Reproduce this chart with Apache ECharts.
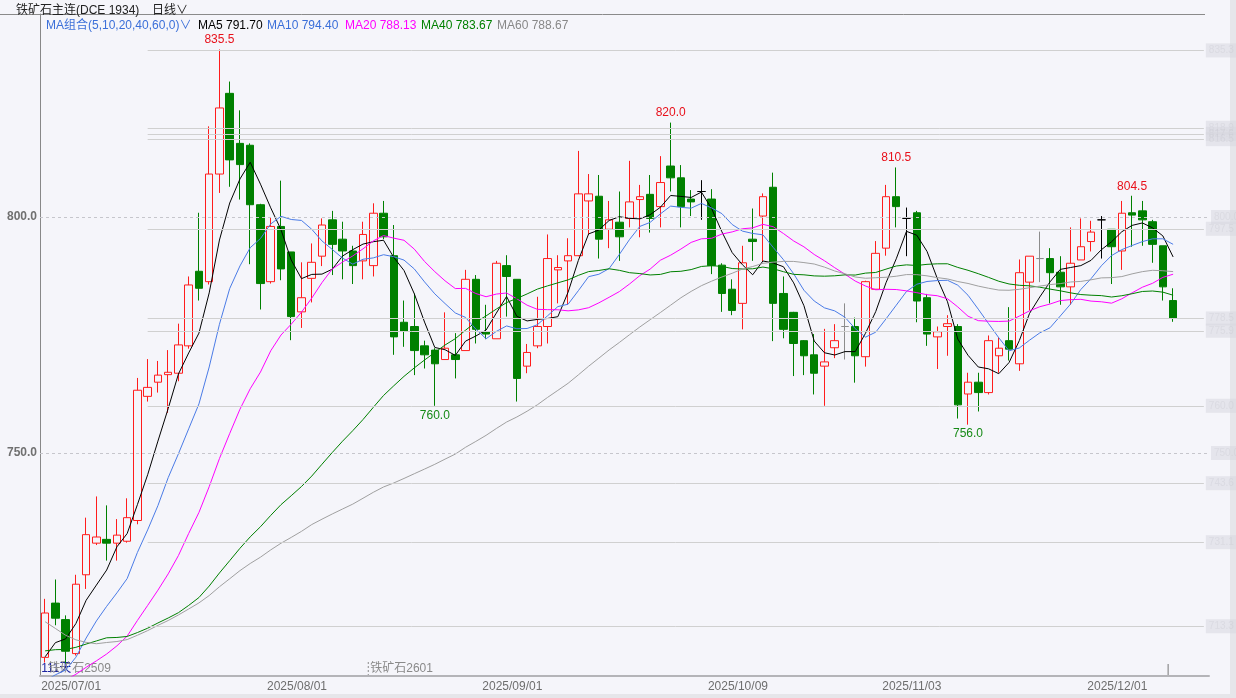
<!DOCTYPE html>
<html><head><meta charset="utf-8">
<script src="https://cdn.jsdelivr.net/npm/echarts@6/dist/echarts.min.js"></script>
<style>html,body{margin:0;padding:0;background:#f5f5fa;}#c{width:1236px;height:698px;}</style>
</head><body><div id="c"></div><script>
// ---- categories (trading days) ----
const tradingDays = [
  ['2025/07', [1,2,3,4,7,8,9,10,11,14,15,16,17,18,21,22,23,24,25,28,29,30,31]],
  ['2025/08', [1,4,5,6,7,8,11,12,13,14,15,18,19,20,21,22,25,26,27,28,29]],
  ['2025/09', [1,2,3,4,5,8,9,10,11,12,15,16,17,18,19,22,23,24,25,26,29,30]],
  ['2025/10', [9,10,13,14,15,16,17,20,21,22,23,24,27,28,29,30,31]],
  ['2025/11', [3,4,5,6,7,10,11,12,13,14,17,18,19,20,21,24,25,26,27,28]],
  ['2025/12', [1,2,3,4,5,8,9,10]]
];
const padCategories = ['p1','p2','p3'];
const labelDates = ['2025/07/01','2025/08/01','2025/09/01','2025/10/09','2025/11/03','2025/12/01'];
const yLabelValues = [750, 800];

// ---- OHLC ----
const opens = [706.7,718.2,714.7,707.5,724.2,730.9,731.7,730.9,731.3,735.7,
 762.0,765.0,766.6,766.9,772.7,788.5,786.3,809.1,826.2,815.6,
 815.2,802.6,786.3,798.0,792.6,779.9,787.0,791.7,799.4,795.3,
 792.8,790.7,789.7,800.8,791.8,777.7,776.8,772.7,771.8,769.8,
 770.8,771.7,786.8,775.7,774.2,789.7,786.8,768.4,772.7,776.8,
 788.8,790.7,791.8,803.4,804.4,797.4,798.9,799.7,803.7,804.8,
 802.2,810.8,808.3,803.8,805.4,803.8,789.8,784.7,781.7,795.3,
 800.2,806.3,783.8,779.8,773.8,770.8,768.4,772.3,776.8,776.8,
 770.4,784.7,793.4,804.3,799.7,800.9,782.9,774.6,776.8,776.8,
 762.5,765.0,762.8,770.6,773.8,768.9,786.2,791.2,791.2,788.3,
 785.2,790.9,794.8,799.4,797.4,792.8,800.9,801.3,799.0,793.9,782.3];
const closes = [716.1,715.0,708.0,722.2,732.7,732.2,730.9,732.6,736.3,763.3,
 763.9,766.5,767.1,772.9,785.6,784.9,809.1,823.1,812.1,811.1,
 802.6,785.9,798.0,789.0,778.9,782.9,790.4,798.3,794.2,792.8,
 789.7,796.3,800.8,795.8,774.6,775.8,771.7,770.8,768.9,772.2,
 769.8,786.8,776.2,775.2,790.2,787.4,765.8,771.3,776.8,791.2,
 789.3,791.8,804.9,804.9,795.3,799.4,795.8,803.2,804.3,799.7,
 807.3,808.3,802.2,803.2,805.4,789.7,783.8,780.2,790.3,794.8,
 804.3,781.7,776.2,773.2,770.6,766.9,769.3,773.8,776.8,770.6,
 786.3,792.3,804.3,802.2,799.7,782.2,775.2,775.7,777.4,760.2,
 765.0,762.8,773.8,772.2,772.0,788.2,791.7,791.2,788.2,785.2,
 790.2,793.7,796.8,799.4,793.7,800.8,800.4,799.4,794.2,785.2,778.5];
const lows = [705.6,713.5,705.4,707.1,721.2,730.5,727.2,727.2,731.0,734.9,
 760.9,762.8,758.5,765.2,772.1,782.3,785.7,805.1,806.4,803.7,
 790.0,780.4,785.9,786.6,773.9,776.5,781.9,789.6,787.7,786.8,
 785.8,786.8,787.4,795.3,770.8,772.5,766.5,767.9,760.0,769.8,
 765.8,771.7,773.2,774.1,774.2,778.9,760.9,766.9,772.2,773.2,
 781.7,781.4,791.7,796.3,791.2,793.4,790.7,797.8,795.7,796.7,
 797.8,805.4,797.8,800.2,799.4,787.9,779.9,779.2,776.2,790.7,
 790.5,773.7,774.3,766.3,766.5,762.4,760.0,770.1,769.8,764.9,
 768.3,784.7,791.8,797.8,791.7,777.7,772.7,767.8,770.6,757.3,
 756.0,758.8,762.4,767.0,769.6,767.4,780.2,786.2,781.7,781.4,
 781.4,790.9,792.7,791.2,785.8,788.8,793.7,793.9,790.3,782.3,777.8];
const highs = [719.1,723.2,715.6,724.2,736.3,740.8,738.9,736.0,740.4,765.9,
 769.9,769.5,771.8,777.4,787.4,800.9,819.2,835.5,828.7,822.6,
 815.6,802.8,800.0,807.7,792.6,790.4,794.4,799.7,801.3,799.0,
 793.9,799.0,802.9,803.4,798.3,782.3,783.8,773.8,772.2,779.8,
 775.4,788.8,787.7,781.4,790.7,791.9,786.8,773.1,783.1,796.3,
 791.9,795.5,814.0,809.1,808.9,803.4,805.4,811.9,806.8,808.9,
 812.9,820.0,811.0,805.7,807.8,805.9,790.2,786.8,793.9,801.8,
 805.0,809.4,787.4,779.9,773.9,775.2,776.3,777.3,781.7,778.7,
 786.5,794.9,806.8,810.5,802.0,801.3,783.7,776.8,779.2,777.3,
 767.0,767.0,774.9,774.5,780.9,791.0,791.7,796.9,793.4,791.7,
 797.8,799.7,799.2,800.2,797.4,803.4,804.5,803.4,799.4,793.9,784.9];
// closes before 2025/07/01 (estimated) used for the moving averages' start
const priorCloses = [800,795,780,765,750,715,720,712,708,705,
 700,705,702,710,708,715,712,710,708,712,
 705,706,704,705,706,704,730,728,730,727,
 722,725,728,724,718,712,712,708,706,706,
 700,702,698,703,705,702,698,695,697,700,
 702,698,695,692,696,700,704,706,708];
const dojiBlack = [64, 84, 103];
const dojiGray = [78, 97];
const highMarks = [17, 61, 83, 106];
const lowMarks = [38, 90];
const supportLevels = [835.3, 818.9, 817.6, 816.5, 797.5, 778.5, 775.9, 760.0, 743.6, 731.1, 713.3];
const supportStart = 10;
const maPeriods = [5, 10, 20, 40, 60];
const maColors = ['#000000', '#4a7be6', '#ff00ff', '#008000', '#a0a0a0'];
const maLegend = ['MA5 791.70', 'MA10 794.40', 'MA20 788.13', 'MA40 783.67', 'MA60 788.67'];
const maLegendX = [198, 267, 345, 421, 497];
const maLegendColors = ['#000000', '#3b6fd9', '#ff00ff', '#008000', '#888888'];

// ---- build ----
const cats = [];
tradingDays.forEach(([m, ds]) => ds.forEach(d => cats.push(m + '/' + String(d).padStart(2, '0'))));
const allCats = cats.concat(padCategories);
const full = priorCloses.concat(closes);
function ma(n) {
  return closes.map((_, i) => {
    const end = i + priorCloses.length;
    let s = 0;
    for (let k = end - n + 1; k <= end; k++) s += full[k];
    return +(s / n).toFixed(2);
  });
}
const candleData = closes.map((c, i) => {
  const item = { value: [opens[i], c, lows[i], highs[i]] };
  const dc = dojiBlack.includes(i) ? '#000000' : (dojiGray.includes(i) ? '#8c8c8c' : null);
  if (dc) item.itemStyle = { color: dc, color0: dc, borderColor: dc, borderColor0: dc, borderColorDoji: dc };
  return item;
});
const FONT = '"Liberation Sans", "Noto Sans CJK SC", sans-serif';
const tagLabel = {
  show: true, position: 'end', distance: 2, fontSize: 10, fontFamily: FONT,
  color: 'rgba(180,180,190,0.22)', backgroundColor: 'rgba(214,214,222,0.5)', padding: [2, 3],
  formatter: p => (+p.value).toFixed(1)
};
const markLineData = [];
yLabelValues.forEach(v => markLineData.push({ yAxis: v, value: v, lineStyle: { type: [3, 3], color: '#c6c6cc', width: 1 } }));
supportLevels.forEach(v => markLineData.push([{ coord: [supportStart, v], value: v }, { coord: [allCats.length - 1, v], value: v }]));
const markPointData = [];
highMarks.forEach(i => markPointData.push({ coord: [i, highs[i]], value: highs[i],
  label: { position: 'top', color: '#e8101a', distance: 3 } }));
lowMarks.forEach(i => markPointData.push({ coord: [i, lows[i]], value: lows[i],
  label: { position: 'bottom', color: '#168a16', distance: 3 } }));

const series = [{
  type: 'candlestick', data: candleData, barWidth: 8,
  itemStyle: { color: 'rgba(0,0,0,0)', color0: '#008000', borderColor: '#ff1c1c', borderColor0: '#008000', borderWidth: 1 },
  markLine: { silent: true, symbol: ['none', 'none'], animation: false, data: markLineData,
    lineStyle: { color: '#d0d0d0', width: 1, type: 'solid' }, label: tagLabel, emphasis: { disabled: true } },
  markPoint: { silent: true, symbol: 'circle', symbolSize: 1, itemStyle: { color: 'rgba(0,0,0,0)' }, data: markPointData,
    label: { show: true, fontSize: 12, fontFamily: FONT, formatter: p => (+p.value).toFixed(1) } }
}];
maPeriods.forEach((n, k) => series.push({
  type: 'line', name: 'MA' + n, data: ma(n), showSymbol: false, symbol: 'none', smooth: false,
  lineStyle: { color: maColors[k], width: 1 }, silent: true, clip: true, z: 3
}));

const chart = echarts.init(document.getElementById('c'));
chart.setOption({
  backgroundColor: '#f5f5fa',
  animation: false,
  grid: { left: 40, top: 14, right: 27, bottom: 22, outerBoundsMode: 'none' },
  xAxis: {
    type: 'category', data: allCats, boundaryGap: true,
    axisLine: { show: true, lineStyle: { color: '#b4b4b8', width: 2 } },
    axisTick: { show: false }, splitLine: { show: false },
    axisLabel: {
      interval: (idx, val) => labelDates.includes(val),
      formatter: (val, idx) => (idx === 0 ? '{f|' + val + '}' : '{n|' + val + '}'),
      align: 'left', margin: 5,
      rich: {
        f: { fontSize: 12, color: '#6e6e6e', fontFamily: FONT, padding: [0, 0, 0, -4] },
        n: { fontSize: 12, color: '#6e6e6e', fontFamily: FONT, padding: [0, 0, 0, -14] }
      }
    }
  },
  yAxis: {
    type: 'value', min: 702.754, max: 843.008, scale: true,
    axisLine: { show: true, lineStyle: { color: '#888888' } },
    axisTick: { show: false }, splitLine: { show: false },
    axisLabel: { customValues: yLabelValues, formatter: v => v.toFixed(1), color: '#707070', fontSize: 12,
      fontWeight: 'bold', fontFamily: FONT, margin: 3 }
  },
  series
});

const switchX = chart.convertToPixel({ xAxisIndex: 0 }, 32) - 5;
const firstX = chart.convertToPixel({ xAxisIndex: 0 }, 0);
const lastX = chart.convertToPixel({ xAxisIndex: 0 }, closes.length - 1);
const g = [
  { type: 'rect', shape: { x: 1230, y: 0, width: 6, height: 698 }, style: { fill: '#e6e6ea' }, silent: true },
  { type: 'rect', shape: { x: 0, y: 694, width: 1236, height: 4 }, style: { fill: '#e6e6ea' }, silent: true },
  { type: 'line', shape: { x1: 0, y1: 14.5, x2: 1205, y2: 14.5 }, style: { stroke: '#8a8a8a', lineWidth: 1 }, silent: true },
  { type: 'text', x: 16, y: 5, style: { text: '铁矿石主连(DCE 1934)', fill: '#222', font: '12px ' + FONT } },
  { type: 'text', x: 152, y: 5, style: { text: '日线∨', fill: '#222', font: '12px ' + FONT } },
  { type: 'text', x: 46, y: 20, style: { text: 'MA组合(5,10,20,40,60,0)∨', fill: '#3b6fd9', font: '12px ' + FONT } },
  { type: 'text', x: firstX - 4, y: 663, style: { text: '111天', fill: '#1c24a0', font: '12px ' + FONT } },
  { type: 'text', x: firstX + 3, y: 663, style: { text: '铁矿石2509', fill: '#8a8a8a', font: '12px ' + FONT } },
  { type: 'line', shape: { x1: switchX, y1: 662, x2: switchX, y2: 676 }, style: { stroke: '#8a8a8a', lineWidth: 1, lineDash: [2, 2] }, silent: true },
  { type: 'text', x: switchX + 2, y: 663, style: { text: '铁矿石2601', fill: '#8a8a8a', font: '12px ' + FONT } },
  { type: 'line', shape: { x1: lastX - 5, y1: 664, x2: lastX - 5, y2: 676 }, style: { stroke: '#777', lineWidth: 1 }, silent: true }
];
maLegend.forEach((t, k) => g.push({ type: 'text', x: maLegendX[k], y: 20, style: { text: t, fill: maLegendColors[k], font: '12px ' + FONT } }));
chart.setOption({ graphic: g });
</script></body></html>
